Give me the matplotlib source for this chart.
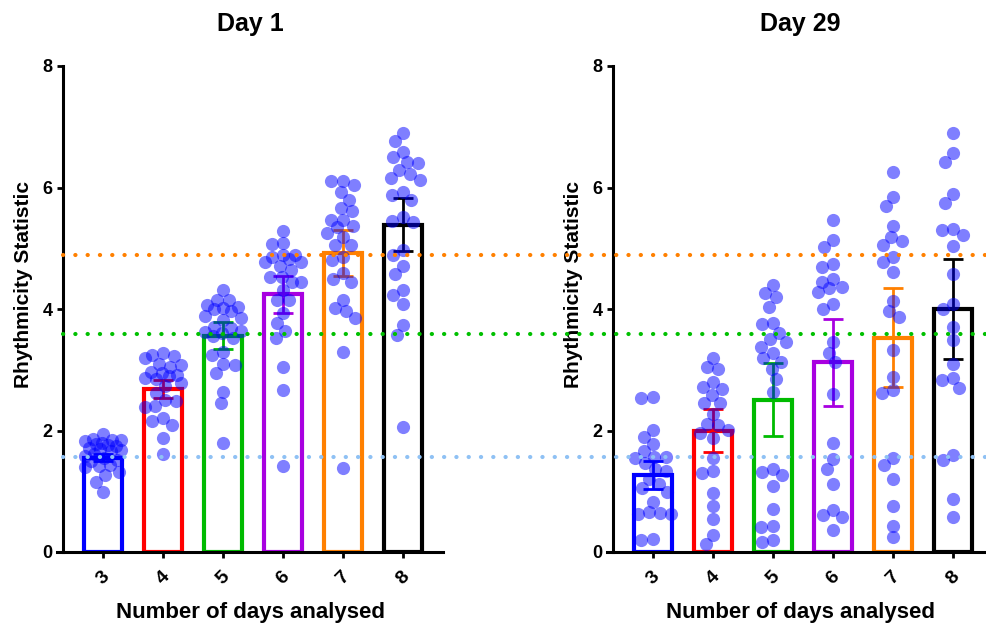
import matplotlib
matplotlib.use("Agg")
import matplotlib.pyplot as plt
import matplotlib.transforms as mtransforms
from matplotlib.lines import Line2D
import numpy as np

plt.rcParams['font.family'] = ['Liberation Sans', 'DejaVu Sans']

days = [3, 4, 5, 6, 7, 8]
bar_colors = ['#0000ff', '#ff0000', '#00bb00', '#a800e0', '#ff8000', '#000000']

# Day 1 individual values per number of days analysed
day1_d3 = [1.95, 1.86, 1.84, 1.84, 1.82, 1.80, 1.78, 1.76, 1.74, 1.72, 1.70, 1.68,
           1.66, 1.62, 1.58, 1.55, 1.52, 1.50, 1.43, 1.42, 1.40, 1.32, 1.27, 1.16, 0.99]
day1_d4 = [3.27, 3.25, 3.23, 3.19, 3.10, 3.08, 3.05, 2.96, 2.94, 2.92, 2.89, 2.86,
           2.84, 2.78, 2.73, 2.61, 2.50, 2.48, 2.40, 2.38, 2.20, 2.15, 2.09, 1.87, 1.61]
day1_d5 = [4.31, 4.15, 4.15, 4.07, 4.03, 4.02, 4.00, 3.97, 3.88, 3.86, 3.82, 3.70, 3.68,
           3.63, 3.62, 3.60, 3.55, 3.53, 3.30, 3.25, 3.09, 3.08, 2.94, 2.63, 2.45, 1.79]
day1_d6 = [5.29, 5.09, 5.07, 4.89, 4.89, 4.85, 4.82, 4.78, 4.78, 4.70, 4.64, 4.52, 4.52,
           4.44, 4.44, 4.31, 4.15, 4.15, 3.93, 3.77, 3.64, 3.52, 3.05, 2.67, 1.42]
day1_d7 = [6.11, 6.10, 6.04, 5.93, 5.79, 5.66, 5.61, 5.47, 5.47, 5.37, 5.35, 5.25, 5.19,
           5.05, 5.05, 4.86, 4.81, 4.59, 4.49, 4.45, 4.15, 4.01, 3.97, 3.85, 3.30, 1.38]
day1_d8 = [6.90, 6.77, 6.59, 6.51, 6.42, 6.40, 6.28, 6.22, 6.15, 6.12, 5.93, 5.88, 5.79,
           5.52, 5.45, 5.44, 4.97, 4.89, 4.71, 4.57, 4.32, 4.23, 4.09, 3.74, 3.58, 2.05]
day1_means = [1.55, 2.68, 3.56, 4.24, 4.92, 5.39]
day1_err = [0.06, 0.15, 0.22, 0.31, 0.38, 0.43]

# Day 29 individual values
day29_d3 = [2.55, 2.54, 2.01, 1.89, 1.78, 1.67, 1.57, 1.56, 1.55, 1.46, 1.36, 1.34,
            1.20, 1.12, 1.05, 0.99, 0.83, 0.66, 0.64, 0.63, 0.62, 0.21, 0.20]
day29_d4 = [3.20, 3.04, 3.02, 2.80, 2.72, 2.68, 2.58, 2.45, 2.45, 2.27, 2.11, 2.09,
            2.01, 1.96, 1.88, 1.55, 1.34, 1.30, 0.97, 0.75, 0.54, 0.28, 0.13]
day29_d5 = [4.39, 4.26, 4.19, 4.04, 3.77, 3.75, 3.61, 3.50, 3.46, 3.38, 3.27, 3.19, 3.13,
            3.02, 2.85, 2.63, 1.37, 1.32, 1.26, 1.09, 0.71, 0.42, 0.41, 0.20, 0.17]
day29_d6 = [5.47, 5.14, 5.02, 4.74, 4.69, 4.49, 4.45, 4.37, 4.34, 4.28, 4.09, 4.00,
            3.45, 3.28, 3.12, 2.60, 1.79, 1.53, 1.37, 1.12, 0.69, 0.61, 0.57, 0.36]
day29_d7 = [6.26, 5.85, 5.70, 5.37, 5.19, 5.12, 5.05, 4.86, 4.78, 4.61, 4.13, 3.96,
            3.87, 3.33, 2.88, 2.67, 2.62, 1.54, 1.43, 1.20, 0.76, 0.43, 0.24]
day29_d8 = [6.90, 6.56, 6.42, 5.89, 5.75, 5.32, 5.30, 5.22, 5.04, 4.57, 4.09, 4.00,
            3.71, 3.49, 3.09, 2.86, 2.83, 2.70, 1.60, 1.51, 0.87, 0.57]
day29_means = [1.27, 2.00, 2.51, 3.12, 3.53, 4.00]
day29_err = [0.23, 0.36, 0.60, 0.71, 0.82, 0.82]

# horizontal reference levels (dotted lines)
ref_levels = [1.56, 3.59, 4.89]
ref_colors = ['#8fc1f4', '#00c000', '#ff8000']

panels = [
    ("Day 1", [day1_d3, day1_d4, day1_d5, day1_d6, day1_d7, day1_d8], day1_means, day1_err),
    ("Day 29", [day29_d3, day29_d4, day29_d5, day29_d6, day29_d7, day29_d8], day29_means, day29_err),
]


def swarm_x(ax, x0, vals, diam=13.0, spread=18.0):
    """Simple beeswarm: offsets in pixel space, converted back to data x."""
    vals = np.asarray(vals, dtype=float)
    tr = ax.transData
    ypx = tr.transform(np.column_stack([np.full(len(vals), x0), vals]))[:, 1]
    px_per_x = tr.transform([(x0 + 1, 0)])[0, 0] - tr.transform([(x0, 0)])[0, 0]
    cands = np.arange(-spread, spread + 0.5, 1.0)
    cands = cands[np.argsort(np.abs(cands) + 0.01 * (cands > 0), kind='stable')]
    px, py = [], []
    offs = np.zeros(len(vals))
    for i in np.argsort(-vals, kind='stable'):
        best, best_d = 0.0, -1.0
        for c in cands:
            d = np.min(np.hypot(np.array(px) - c, np.array(py) - ypx[i])) if px else np.inf
            if d >= diam * 0.85:
                best = c
                break
            if d > best_d:
                best, best_d = c, d
        px.append(best)
        py.append(ypx[i])
        offs[i] = best / px_per_x
    return x0 + offs


fig = plt.figure(figsize=(9.86, 6.28), dpi=100)
W, H = 986.0, 628.0
ax_bottom = (H - 552) / H
ax_height = 486 / H
lefts = [57 / W, 607 / W]
axes = []

for (title, groups, means, errs), left in zip(panels, lefts):
    ax = fig.add_axes([left, ax_bottom, 386 / W, ax_height])
    ax.set_facecolor('none')
    ax.set_xlim(2.233, 8.667)
    ax.set_ylim(0, 8)

    ax.bar(days, means, width=0.64, fill=False, edgecolor=bar_colors,
           linewidth=3.0, zorder=2)
    for d, m, e, c in zip(days, means, errs, bar_colors):
        ax.errorbar(d, m, yerr=e, fmt='none', ecolor=c, elinewidth=2.0,
                    capsize=7, capthick=2.0, zorder=3)
    for d, vals in zip(days, groups):
        xs = swarm_x(ax, d, vals)
        ax.scatter(xs, vals, s=90, color='#0000ff', alpha=0.5, linewidths=0, zorder=4)

    ax.spines['top'].set_visible(False)
    ax.spines['right'].set_visible(False)
    ax.spines['left'].set_linewidth(2.2)
    ax.spines['bottom'].set_linewidth(2.2)
    ax.spines['left'].set_position(('outward', -4.5))

    ax.set_yticks([0, 2, 4, 6, 8])
    ax.set_xticks(days)
    ax.set_xticklabels([str(d) for d in days], rotation=45)
    ax.tick_params(axis='both', width=2.0, length=4.5, labelsize=13, pad=3)
    ax.tick_params(axis='x', labelsize=14, pad=7)
    for lab in ax.get_xticklabels() + ax.get_yticklabels():
        lab.set_fontweight('bold')

    ax.set_title(title, fontsize=18, fontweight='bold', pad=25)
    ax.set_xlabel("Number of days analysed", fontsize=16, fontweight='bold', labelpad=10)
    ax.set_ylabel("Rhythmicity Statistic", fontsize=15, fontweight='bold')
    ax.yaxis.set_label_coords(-0.063, 0.55)
    axes.append(ax)

# dotted reference lines run across both panels
trans = mtransforms.blended_transform_factory(fig.transFigure, axes[0].transData)
for lvl, col in zip(ref_levels, ref_colors):
    ln = Line2D([63 / W, 1.0], [lvl, lvl], transform=trans, color=col,
                linewidth=3.0, linestyle=(0, (0.05, 2.9)), dash_capstyle='round',
                zorder=5)
    fig.add_artist(ln)

fig.savefig("out.png", dpi=100)
